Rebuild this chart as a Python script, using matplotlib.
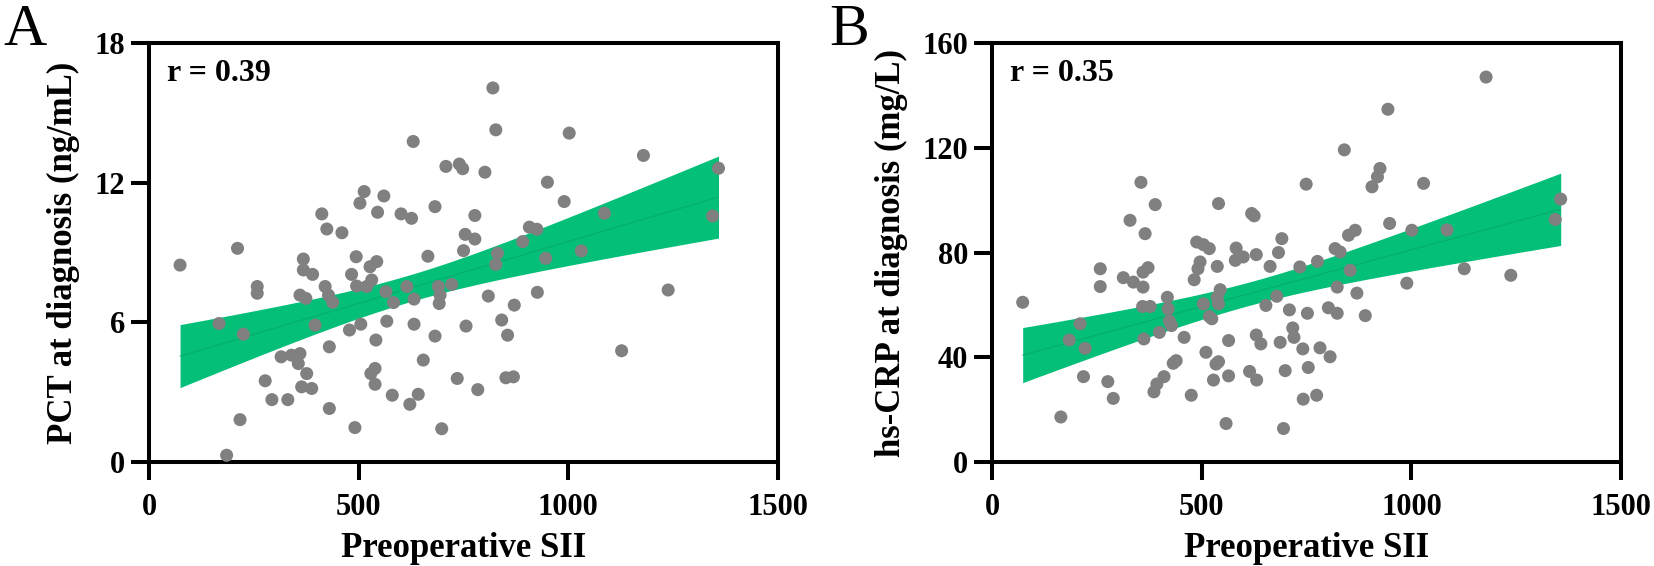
import numpy as np
import matplotlib
matplotlib.use("Agg")
import matplotlib.pyplot as plt

# panel A: preoperative SII vs PCT at diagnosis
sii_a = [74, 630, 708, 513, 503, 560, 545, 412, 424, 460, 601, 626, 682, 211, 368, 368,
         390, 494, 527, 543, 483, 495, 519, 531, 665, 258, 258, 360, 374, 420, 428, 438,
         565, 583, 615, 632, 690, 694, 692, 167, 225, 396, 478, 505, 567, 632, 541, 682,
         430, 315, 340, 360, 356, 376, 654, 539, 529, 539, 277, 364, 388, 293, 331, 580,
         622, 642, 430, 217, 491, 698, 185,
         820, 827, 1002, 1179, 1358, 1344, 740, 748, 801, 950, 990, 777, 754, 777, 750,
         907, 925, 891, 1086, 831, 827, 946, 1031, 722, 809, 871, 926, 1238, 841, 756,
         855, 1127, 735, 851, 869, 784]
pct = [8.46, 13.77, 12.7, 11.62, 11.12, 11.43, 10.73, 10.66, 10.01, 9.85, 10.66, 10.47,
       10.97, 9.18, 8.72, 8.25, 8.06, 8.82, 8.39, 8.61, 8.06, 7.56, 7.54, 7.82, 8.84, 7.54,
       7.25, 7.17, 7.03, 7.54, 7.17, 6.86, 7.32, 6.85, 7.54, 7.00, 7.54, 7.17, 6.81, 5.95,
       5.49, 5.88, 5.67, 5.92, 6.05, 5.92, 5.24, 5.41, 4.95, 4.52, 4.59, 4.66, 4.23, 3.80,
       4.38, 4.02, 3.80, 3.34, 3.49, 3.23, 3.16, 2.68, 2.68, 2.87, 2.48, 2.91, 2.30, 1.82,
       1.48, 1.43, 0.29,
       16.07, 14.27, 14.13, 13.17, 12.62, 10.57, 12.8, 12.6, 12.45, 12.02, 11.19, 10.59,
       9.78, 9.58, 9.08, 10.09, 10.0, 9.47, 10.69, 8.97, 8.49, 8.75, 9.07, 7.63, 7.13,
       6.74, 7.29, 7.39, 6.10, 5.84, 5.45, 4.78, 3.59, 3.62, 3.66, 3.11]

# panel B: preoperative SII vs hs-CRP at diagnosis
sii_b = [73, 210, 184, 222, 218, 276, 289, 164, 258, 258, 313, 337, 329, 355, 365, 360,
         360, 359, 362,
         944, 840, 925, 919, 906, 1029, 749, 389, 540, 619, 625, 948, 1001, 1085, 866, 850,
         691, 683, 488, 504, 518, 582, 599, 580, 630, 663, 496, 491, 537, 482, 734, 776,
         818, 830, 854, 823, 870, 989, 890, 802, 823, 752, 709, 653, 679, 544, 537, 540,
         504, 518, 524, 418, 420, 423, 428, 372, 377, 399, 458, 564, 630, 641, 687, 717,
         720, 741, 782, 806, 510, 432, 439, 410, 393, 386, 475, 534, 540, 528, 564, 614,
         631, 699, 754, 742, 774, 558, 695,
         1178, 1126, 1237, 1356, 1343]
crp = [61.0, 52.8, 46.6, 43.4, 32.6, 30.7, 24.3, 17.2, 73.8, 67.0, 70.4, 68.7, 92.3, 106.8,
       87.2, 72.5, 66.8, 59.4, 47.0,
       134.7, 119.2, 112.1, 108.9, 105.1, 106.4, 106.1, 98.3, 98.7, 94.9, 94.0, 91.1, 88.5,
       88.6, 88.5, 86.6, 85.3, 80.0, 84.0, 83.0, 81.5, 81.7, 78.3, 77.0, 79.2, 74.7, 76.4,
       73.8, 74.7, 69.6, 74.5, 76.6, 81.5, 80.2, 73.2, 66.8, 64.5, 68.3, 55.9, 58.9, 56.8,
       56.8, 58.1, 59.8, 63.3, 65.8, 62.9, 60.4, 60.4, 55.6, 54.7, 62.9, 58.5, 53.8, 52.1,
       74.2, 59.4, 49.5, 47.6, 46.4, 48.5, 45.1, 45.7, 51.2, 47.6, 43.2, 43.6, 40.2, 41.9,
       37.7, 38.7, 32.6, 29.8, 26.8, 25.5, 37.4, 38.3, 31.3, 32.9, 34.6, 31.3, 34.9, 36.1,
       24.0, 25.5, 14.7, 12.8,
       147.0, 73.8, 71.3, 100.4, 92.6]

plt.rcParams['font.family'] = ['Liberation Serif', 'DejaVu Serif']
plt.rcParams['font.weight'] = 'bold'

BAND = '#03BF78'
DOT = '#808080'


# straight-line fit with its 95% confidence band
def fit_band(x, y):
	x = np.asarray(x, float)
	y = np.asarray(y, float)
	n = len(x)
	b, a = np.polyfit(x, y, 1)
	resid = y - (a + b * x)
	s = np.sqrt(np.sum(resid ** 2) / (n - 2))
	sxx = np.sum((x - x.mean()) ** 2)
	xs = np.linspace(x.min(), x.max(), 200)
	yhat = a + b * xs
	half = 1.98 * s * np.sqrt(1.0 / n + (xs - x.mean()) ** 2 / sxx)
	return xs, yhat, yhat - half, yhat + half


def draw_panel(ax, x, y, ymax, yticks, ylabel, rtext, ylab_x):
	xs, yhat, lo, hi = fit_band(x, y)
	ax.fill_between(xs, lo, hi, color=BAND, lw=0, zorder=1)
	ax.plot(xs, yhat, color='#06A868', lw=0.6, zorder=2)
	ax.scatter(x, y, s=88, color=DOT, edgecolors='none', zorder=3)
	ax.set_xlim(0, 1500)
	ax.set_ylim(0, ymax)
	ax.set_xticks([0, 500, 1000, 1500])
	ax.set_yticks(yticks)
	for sp in ax.spines.values():
		sp.set_linewidth(2.9)
	ax.tick_params(direction='out', length=13, width=2.9, labelsize=22)
	ax.tick_params(axis='x', pad=9)
	ax.tick_params(axis='y', pad=4)
	ax.set_xlabel('Preoperative SII', fontsize=25, fontweight='bold')
	ax.set_ylabel(ylabel, fontsize=25, fontweight='bold')
	ax.xaxis.set_label_coords(0.5, -0.166)
	# anchor is the right-hand edge of the rotated label
	ax.yaxis.set_label_coords(ylab_x, 0.5)
	ax.text(0.029, 0.927, rtext, transform=ax.transAxes, fontsize=23,
			fontweight='bold', va='center', ha='left')


fig = plt.figure(figsize=(16.54, 5.66), dpi=100)
ax1 = fig.add_axes([0.0901, 0.1837, 0.3803, 0.7403])
ax2 = fig.add_axes([0.5998, 0.1837, 0.3803, 0.7403])

draw_panel(ax1, sii_a, pct, 18, [0, 6, 12, 18], 'PCT at diagnosis (ng/mL)', 'r = 0.39', -0.110)
draw_panel(ax2, sii_b, crp, 160, [0, 40, 80, 120, 160], 'hs-CRP at diagnosis (mg/L)', 'r = 0.35', -0.134)

fig.text(0.0018, 0.9205, 'A', fontsize=43, fontweight='normal', va='baseline', ha='left')
fig.text(0.5012, 0.9205, 'B', fontsize=43, fontweight='normal', va='baseline', ha='left')

fig.savefig('out.png', dpi=100)
